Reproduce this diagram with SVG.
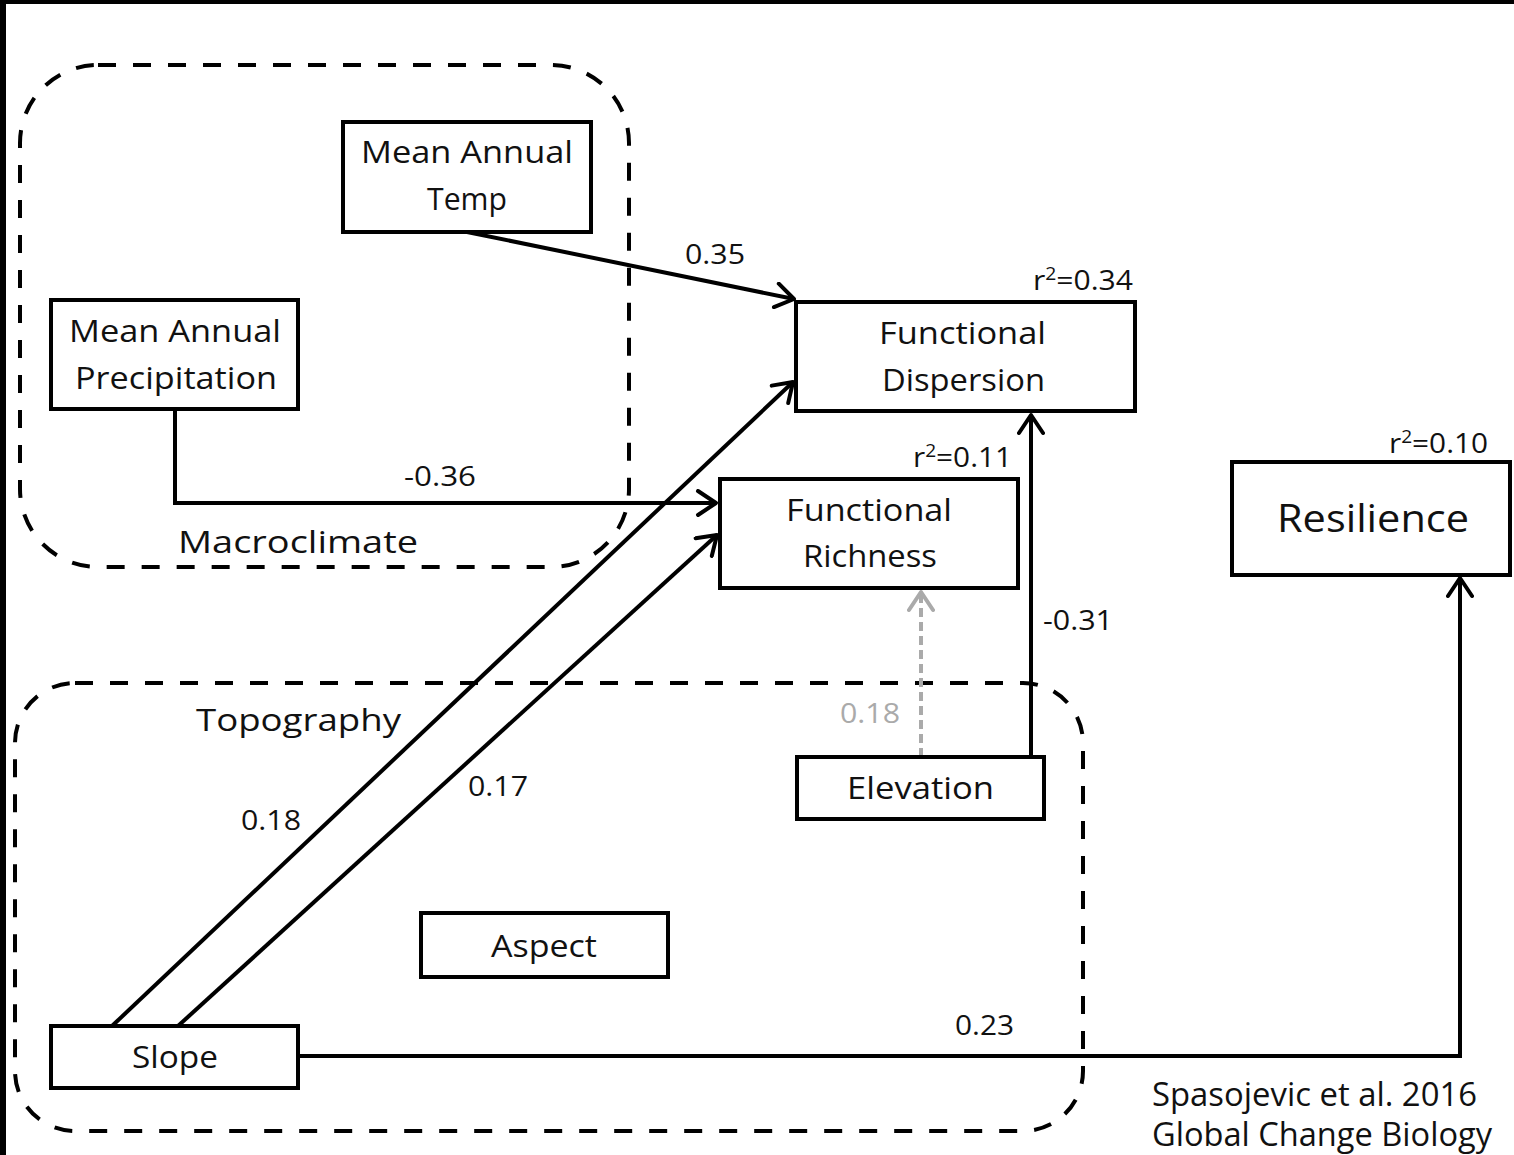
<svg xmlns="http://www.w3.org/2000/svg" width="1514" height="1155" viewBox="0 0 1514 1155">
  <style>
    .box { fill: #fff; stroke: #000; stroke-width: 4; }
    .group { fill: none; stroke: #000; stroke-width: 4; stroke-dasharray: 18 17; }
    .lbl { font-family: "Open Sans", "Noto Sans", "Liberation Sans", sans-serif; font-size: 31px; fill: #111; }
    .cite { font-family: "Open Sans", "Noto Sans", "Liberation Sans", sans-serif; font-size: 32px; fill: #111; }
    .num { font-family: "Open Sans", "Noto Sans", "Liberation Sans", sans-serif; font-size: 28px; fill: #111; }
    .big { font-family: "Open Sans", "Noto Sans", "Liberation Sans", sans-serif; font-size: 39px; fill: #111; }
    .edge { fill: none; stroke: #000; stroke-width: 4; }
    .edge-gray { fill: none; stroke: #aaa; stroke-width: 4; stroke-dasharray: 9 5; }
  </style>
  <defs>
    <marker id="arrow" markerUnits="userSpaceOnUse" viewBox="-22 -14 26 28" markerWidth="26" markerHeight="28" refX="0" refY="0" orient="auto">
      <path d="M-18,-12 L0,0 L-18,12" fill="none" stroke="#000" stroke-width="4" stroke-linecap="round" stroke-linejoin="round"/>
    </marker>
    <marker id="arrow-gray" markerUnits="userSpaceOnUse" viewBox="-22 -14 26 28" markerWidth="26" markerHeight="28" refX="0" refY="0" orient="auto">
      <path d="M-18,-12 L0,0 L-18,12" fill="none" stroke="#aaa" stroke-width="4" stroke-linecap="round" stroke-linejoin="round"/>
    </marker>
  </defs>

  <!-- page background and frame -->
  <rect x="0" y="0" width="1514" height="1155" fill="#fff"/>
  <rect x="0" y="0" width="1514" height="4" fill="#000"/>
  <rect x="0" y="0" width="6" height="1155" fill="#000"/>

  <!-- dashed grouping regions -->
  <g id="group-macroclimate">
    <rect class="group" x="20" y="65" width="609" height="502" rx="78" ry="78"/>
    <text class="lbl" x="178" y="553" textLength="240" lengthAdjust="spacingAndGlyphs">Macroclimate</text>
  </g>
  <g id="group-topography">
    <rect class="group" x="15" y="683" width="1068" height="448" rx="60" ry="60"/>
    <text class="lbl" x="196" y="731" textLength="205" lengthAdjust="spacingAndGlyphs">Topography</text>
  </g>

  <!-- connectors -->
  <g id="connectors">
    <path class="edge" d="M467,232 L794,299" marker-end="url(#arrow)"/>
    <path class="edge" d="M175,409 L175,503 L716,503" marker-end="url(#arrow)"/>
    <path class="edge" d="M112,1026 L793,382" marker-end="url(#arrow)"/>
    <path class="edge" d="M178,1026 L717,535" marker-end="url(#arrow)"/>
    <path class="edge" d="M1031,757 L1031,415" marker-end="url(#arrow)"/>
    <path class="edge-gray" d="M921,757 L921,592" marker-end="url(#arrow-gray)"/>
    <path class="edge" d="M298,1056 L1460,1056 L1460,578" marker-end="url(#arrow)"/>

    <text class="num" x="685" y="264" textLength="60" lengthAdjust="spacingAndGlyphs">0.35</text>
    <text class="num" x="404" y="486" textLength="72" lengthAdjust="spacingAndGlyphs">-0.36</text>
    <text class="num" x="241" y="830" textLength="60" lengthAdjust="spacingAndGlyphs">0.18</text>
    <text class="num" x="468" y="796" textLength="60" lengthAdjust="spacingAndGlyphs">0.17</text>
    <text class="num" x="840" y="723" textLength="60" lengthAdjust="spacingAndGlyphs" style="fill:#aaa">0.18</text>
    <text class="num" x="1043" y="630" textLength="70" lengthAdjust="spacingAndGlyphs">-0.31</text>
    <text class="num" x="955" y="1035" textLength="59" lengthAdjust="spacingAndGlyphs">0.23</text>
  </g>

  <!-- nodes -->
  <g id="node-temp">
    <rect class="box" x="343" y="122" width="248" height="110"/>
    <text class="lbl" x="361" y="163" textLength="212" lengthAdjust="spacingAndGlyphs">Mean Annual</text>
    <text class="lbl" x="427" y="210" textLength="80" lengthAdjust="spacingAndGlyphs">Temp</text>
  </g>
  <g id="node-precip">
    <rect class="box" x="51" y="300" width="247" height="109"/>
    <text class="lbl" x="69" y="342" textLength="212" lengthAdjust="spacingAndGlyphs">Mean Annual</text>
    <text class="lbl" x="75" y="389" textLength="202" lengthAdjust="spacingAndGlyphs">Precipitation</text>
  </g>
  <g id="node-dispersion">
    <rect class="box" x="796" y="302" width="339" height="109"/>
    <text class="lbl" x="879" y="344" textLength="167" lengthAdjust="spacingAndGlyphs">Functional</text>
    <text class="lbl" x="882" y="391" textLength="163" lengthAdjust="spacingAndGlyphs">Dispersion</text>
    <text class="num" x="1033" y="290" textLength="100" lengthAdjust="spacingAndGlyphs">r<tspan dy="-10" font-size="18">2</tspan><tspan dy="10">=0.34</tspan></text>
  </g>
  <g id="node-richness">
    <rect class="box" x="720" y="479" width="298" height="109"/>
    <text class="lbl" x="786" y="521" textLength="166" lengthAdjust="spacingAndGlyphs">Functional</text>
    <text class="lbl" x="803" y="567" textLength="134" lengthAdjust="spacingAndGlyphs">Richness</text>
    <text class="num" x="913" y="467" textLength="99" lengthAdjust="spacingAndGlyphs">r<tspan dy="-10" font-size="18">2</tspan><tspan dy="10">=0.11</tspan></text>
  </g>
  <g id="node-resilience">
    <rect class="box" x="1232" y="462" width="278" height="113"/>
    <text class="big" x="1277" y="532" textLength="192" lengthAdjust="spacingAndGlyphs">Resilience</text>
    <text class="num" x="1389" y="453" textLength="99" lengthAdjust="spacingAndGlyphs">r<tspan dy="-10" font-size="18">2</tspan><tspan dy="10">=0.10</tspan></text>
  </g>
  <g id="node-elevation">
    <rect class="box" x="797" y="757" width="247" height="62"/>
    <text class="lbl" x="847" y="799" textLength="147" lengthAdjust="spacingAndGlyphs">Elevation</text>
  </g>
  <g id="node-aspect">
    <rect class="box" x="421" y="913" width="247" height="64"/>
    <text class="lbl" x="491" y="957" textLength="106" lengthAdjust="spacingAndGlyphs">Aspect</text>
  </g>
  <g id="node-slope">
    <rect class="box" x="51" y="1026" width="247" height="62"/>
    <text class="lbl" x="132" y="1068" textLength="86" lengthAdjust="spacingAndGlyphs">Slope</text>
  </g>

  <!-- citation -->
  <g id="citation">
    <text class="cite" x="1152" y="1106" textLength="325" lengthAdjust="spacingAndGlyphs">Spasojevic et al. 2016</text>
    <text class="cite" x="1152" y="1146" textLength="340" lengthAdjust="spacingAndGlyphs">Global Change Biology</text>
  </g>
</svg>
